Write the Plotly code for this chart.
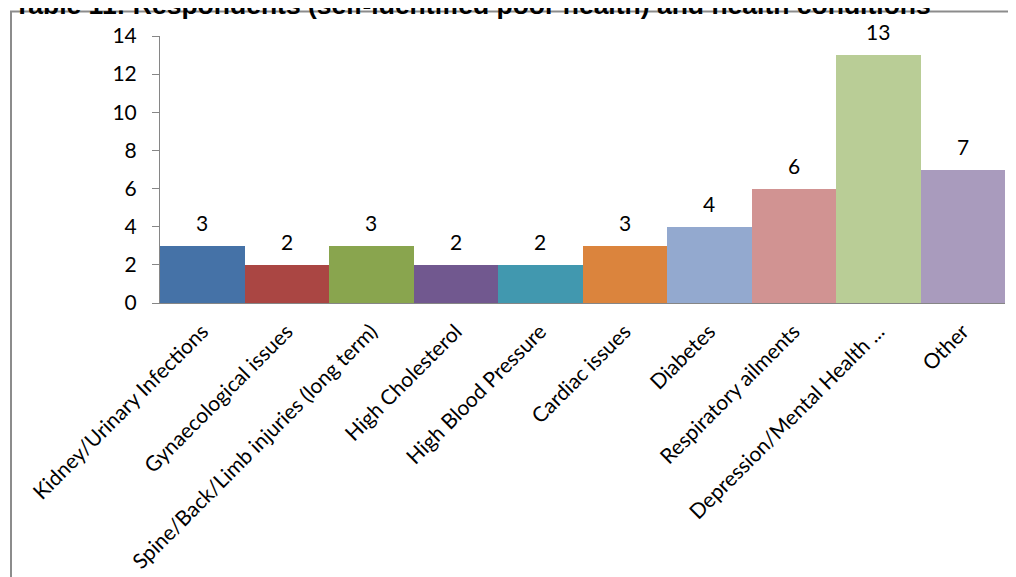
import plotly.graph_objects as go

categories = [
    "Kidney/Urinary Infections",
    "Gynaecological issues",
    "Spine/Back/Limb injuries (long term)",
    "High Cholesterol",
    "High Blood Pressure",
    "Cardiac issues",
    "Diabetes",
    "Respiratory ailments",
    "Depression/Mental Health ...",
    "Other",
]
values = [3, 2, 3, 2, 2, 3, 4, 6, 13, 7]
colors = ["#4572A7", "#AA4643", "#89A54E", "#71588F", "#4198AF",
          "#DB843D", "#93A9CF", "#D19392", "#B9CD96", "#A99BBD"]
y_ticks = [0, 2, 4, 6, 8, 10, 12, 14]
title_text = "Table 11: Respondents (self-identified poor health) and health conditions"

# page has an 8px body margin; figure coordinates = page coordinates - 8
OFF = 8
W, H = 1016 - OFF, 577 - OFF
L, R, T, B = 160 - OFF, 11, 36 - OFF, 274
pw, ph = W - L - R, H - T - B

def px_x(page_x):
    return (page_x - OFF - L) / pw

def px_y(page_y):
    return 1 + (T - (page_y - OFF)) / ph

fig = go.Figure()
fig.add_trace(go.Bar(
    x=categories, y=values,
    marker=dict(color=colors, line=dict(width=0)),
    width=1.0,
    hoverinfo="x+y",
))

font_family = "Lato, 'Open Sans', sans-serif"
fs = 21

annotations = []
for c, v in zip(categories, values):
    annotations.append(dict(
        x=c, y=v, xref="x", yref="y", text=str(v), showarrow=False,
        yanchor="bottom", yshift=9,
        font=dict(family=font_family, size=fs, color="#000000"),
    ))
annotations.append(dict(
    x=px_x(12), y=px_y(22), xref="paper", yref="paper",
    text="<b>" + title_text + "</b>", showarrow=False,
    xanchor="left", yanchor="bottom", align="left",
    font=dict(family="Liberation Sans, Arial, sans-serif", size=26.5, color="#000000"),
))

fig.update_layout(
    width=W, height=H,
    margin=dict(l=L, r=R, t=T, b=B, pad=0, autoexpand=False),
    paper_bgcolor="white", plot_bgcolor="white",
    showlegend=False,
    bargap=0,
    annotations=annotations,
    shapes=[dict(
        type="rect", xref="paper", yref="paper",
        x0=px_x(11), x1=px_x(1100), y0=px_y(700), y1=px_y(11.5),
        line=dict(color="#8c8c8c", width=2), fillcolor="rgba(0,0,0,0)",
        layer="below",
    )],
    xaxis=dict(
        type="category", range=[-0.5, 9.5],
        tickangle=-45, automargin=False,
        showline=True, linecolor="#868686", linewidth=1,
        ticks="", showgrid=False, zeroline=False,
        tickfont=dict(family=font_family, size=fs, color="#000000"),
        ticklabelstandoff=7,
        fixedrange=True,
    ),
    yaxis=dict(
        range=[0, 14], tickvals=y_ticks, ticktext=[str(t) for t in y_ticks],
        automargin=False,
        showline=True, linecolor="#868686", linewidth=1,
        ticks="outside", ticklen=7, tickcolor="#868686",
        showgrid=False, zeroline=False,
        tickfont=dict(family=font_family, size=fs, color="#000000"),
        ticklabelstandoff=11,
        fixedrange=True,
    ),
)

fig.write_html("out.html")
